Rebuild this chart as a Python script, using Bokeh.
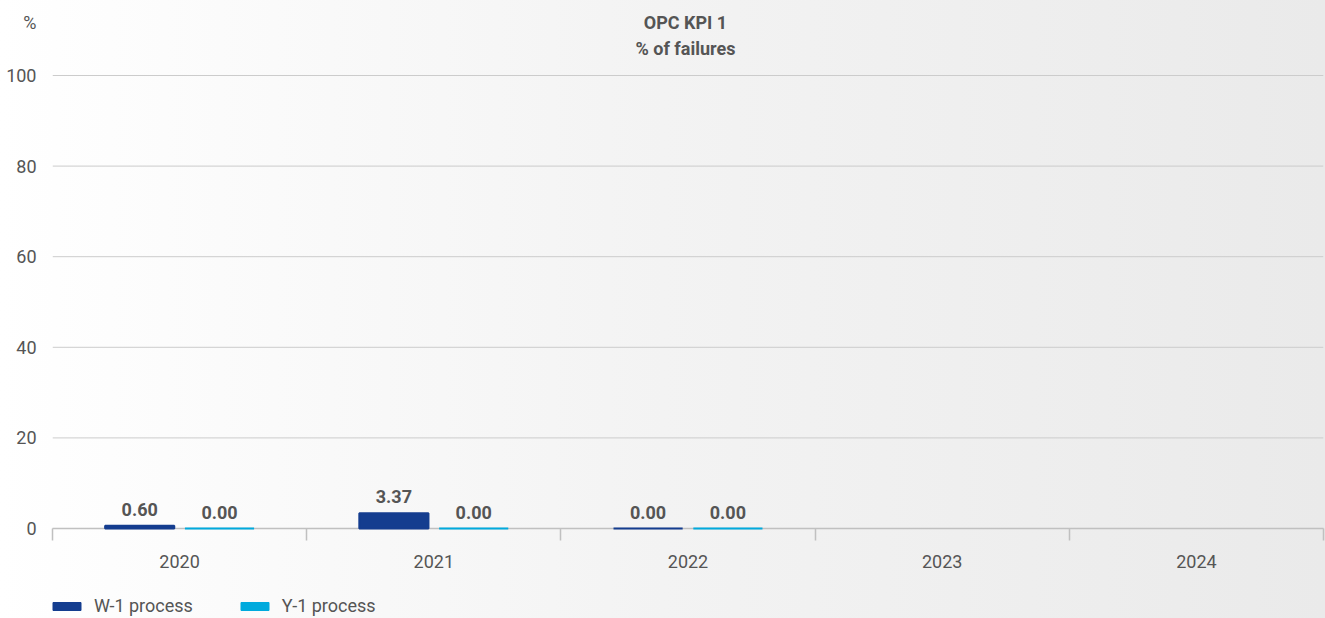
import numpy as np
from bokeh.plotting import figure
from bokeh.layouts import column
from bokeh.models import (ColumnDataSource, Range1d, FixedTicker, LabelSet, Legend,
                          LegendItem, Label)
from bokeh.core.properties import value
from bokeh.embed import file_html
from bokeh.resources import INLINE

years = ["2020", "2021", "2022", "2023", "2024"]
w1_values = [0.60, 3.37, 0.00, np.nan, np.nan]
y1_values = [0.00, 0.00, 0.00, np.nan, np.nan]
y_ticks = [0, 20, 40, 60, 80, 100]
series_names = ["W-1 process", "Y-1 process"]
title_lines = ["OPC KPI 1", "% of failures"]
unit_label = "%"

DARK = "#143d8f"
CYAN = "#00aadd"
TXT = "#555555"
GRID = "#cccccc"
FONT = "Roboto"
BG = {"background": "linear-gradient(to right, #ffffff 0%, #f3f3f3 50%, #eaeaea 100%)"}

idx = np.arange(len(years)) + 0.5
OFF, BW = 0.157, 0.272
PX_PER_UNIT = 4.53          # frame: 0 -> 528px, 100 -> 75px
Y_TOP = 528 / PX_PER_UNIT   # frame extends to the top of the canvas
Y_T1 = (528 - 22) / PX_PER_UNIT
Y_T2 = (528 - 48) / PX_PER_UNIT


def lab(vals):
    return ["" if np.isnan(v) else f"{v:.2f}" for v in vals]


src_w = ColumnDataSource(dict(x=idx - OFF, top=w1_values, lab=lab(w1_values)))
src_y = ColumnDataSource(dict(x=idx + OFF, top=y1_values, lab=lab(y1_values)))

p = figure(width=1325, height=580, output_backend="svg", toolbar_location=None,
           x_range=Range1d(0, 5), y_range=Range1d(0, Y_TOP),
           min_border_left=52, min_border_right=2, min_border_top=0, min_border_bottom=52)
p.border_fill_alpha = 0
p.background_fill_alpha = 0
p.outline_line_color = None
p.styles = BG

# horizontal grid lines (only over the value ticks)
p.segment(x0=0, x1=5, y0=y_ticks, y1=y_ticks, line_color=GRID, line_width=1)

rw = p.vbar(x="x", top="top", width=BW, source=src_w, fill_color=DARK, line_color=DARK,
            line_width=2, level="overlay")
ry = p.vbar(x="x", top="top", width=BW, source=src_y, fill_color=CYAN, line_color=CYAN,
            line_width=2, level="overlay")

for s in (src_w, src_y):
    p.add_layout(LabelSet(x="x", y="top", text="lab", source=s, y_offset=10,
                          text_align="center", text_baseline="bottom",
                          text_font=value(FONT), text_font_size="18px",
                          text_font_style="bold", text_color=TXT))

# y axis (the unit "%" sits as an extra label at the top)
p.yaxis.ticker = FixedTicker(ticks=y_ticks + [round(Y_T1, 2)])
p.yaxis.major_label_overrides = {round(Y_T1, 2): unit_label}
p.yaxis.axis_line_color = None
p.yaxis.major_tick_line_color = None
p.yaxis.minor_tick_line_color = None
p.yaxis.major_label_standoff = 10
p.yaxis.major_label_text_font = FONT
p.yaxis.major_label_text_font_size = "18px"
p.yaxis.major_label_text_color = TXT

# x axis: labels at category centres, separators at boundaries
p.xaxis.ticker = FixedTicker(ticks=list(idx), minor_ticks=list(range(len(years) + 1)))
p.xaxis.major_label_overrides = {float(t): y for t, y in zip(idx, years)}
p.xaxis.major_tick_line_color = None
p.xaxis.minor_tick_line_color = "#c0c0c0"
p.xaxis.minor_tick_out = 12
p.xaxis.minor_tick_in = 0
p.xaxis.minor_tick_line_width = 1.5
p.xaxis.axis_line_color = "#c0c0c0"
p.xaxis.axis_line_width = 1.5
p.xaxis.major_label_standoff = 14
p.xaxis.major_label_text_font = FONT
p.xaxis.major_label_text_font_size = "18px"
p.xaxis.major_label_text_color = TXT

p.xgrid.grid_line_color = None
p.ygrid.grid_line_color = None

# title (two lines), centred over the plot area
for txt, yy in zip(title_lines, (Y_T1, Y_T2)):
    p.add_layout(Label(x=2.49, y=yy, text=txt, text_align="center", text_baseline="middle",
                       text_font=FONT, text_font_size="18px", text_font_style="bold",
                       text_color=TXT))

# legend strip below the chart
lg = figure(width=1325, height=38, output_backend="svg", toolbar_location=None,
            x_range=Range1d(0, 5), y_range=Range1d(1000, 1001),
            min_border=0, x_axis_location=None, y_axis_location=None)
lg.border_fill_alpha = 0
lg.background_fill_alpha = 0
lg.outline_line_color = None
lg.grid.grid_line_color = None
lg.styles = BG
lw = lg.vbar(x="x", top="top", width=BW, source=src_w, fill_color=DARK, line_color=DARK)
ly = lg.vbar(x="x", top="top", width=BW, source=src_y, fill_color=CYAN, line_color=CYAN)
legend = Legend(items=[LegendItem(label=series_names[0], renderers=[lw]),
                       LegendItem(label=series_names[1], renderers=[ly])],
                orientation="horizontal", location=(-3, 2),
                label_text_font=FONT, label_text_font_size="18px", label_text_color=TXT,
                glyph_width=35, glyph_height=10, label_standoff=10, spacing=44,
                padding=0, margin=0, border_line_color=None, background_fill_alpha=0,
                label_height=20)
lg.add_layout(legend)

layout = column(p, lg, spacing=0)
open("out.html", "w").write(file_html(layout, INLINE))
